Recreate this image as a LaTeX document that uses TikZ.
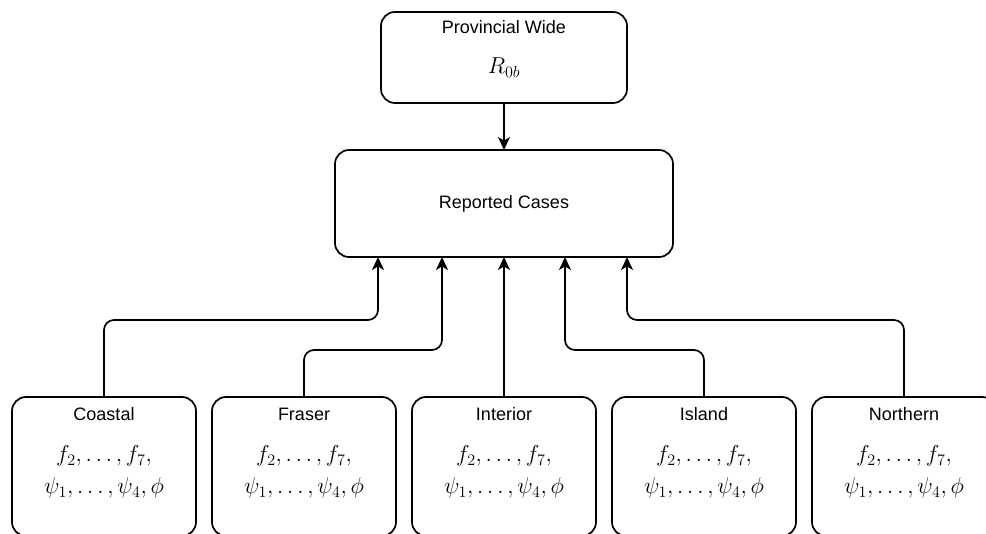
\RequirePackage{fix-cm}
\documentclass[tikz,border=0pt]{standalone}
\usepackage{fontspec}
\setmainfont{Liberation Sans}
\usetikzlibrary{arrows.meta}
\tikzset{
  box/.style={draw, line width=1.7pt, rounded corners=14pt, outer sep=0pt, inner sep=0pt},
  regbox/.style={box, minimum width=184pt, minimum height=139pt},
  conn/.style={draw, line width=1.7pt, rounded corners=10pt,
    -{Stealth[length=13pt,width=12pt,inset=3.5pt]}},
  lbl/.style={anchor=base, font=\fontsize{18}{22}\selectfont, inner sep=0pt},
  mth/.style={anchor=base, font=\fontsize{23}{27}\selectfont, inner sep=0pt},
}
\begin{document}
\begin{tikzpicture}[x=1pt,y=-1pt]
\useasboundingbox (0,0) rectangle (986,534);

% top box
\node[box, minimum width=246pt, minimum height=91pt] (top) at (504,57.5) {};
\node[lbl] (topT) at (504,34) {Provincial Wide};
\node[mth] (topM) at (504,74) {$R_{0b}$};

% reported cases
\node[box, minimum width=338pt, minimum height=107pt, font=\fontsize{18}{22}\selectfont] (rep) at (504,203.5) {Reported Cases};

% region boxes
\foreach \nm/\lab/\cx in {coastal/Coastal/104, fraser/Fraser/304, interior/Interior/504, island/Island/704, northern/Northern/904}{
  \node[regbox] (\nm) at (\cx,466.5) {};
  \node[lbl] (\nm T) at (\cx,421) {\lab};
  \node[mth] (\nm F) at (\cx,462) {$f_2,\ldots,f_7,$};
  \node[mth] (\nm P) at (\cx,494) {$\psi_1,\ldots,\psi_4,\phi$};
}

% connectors
\draw[conn] (top.south) -- (rep.north);
\draw[conn] (coastal.north) |- ([xshift=-126pt,yshift=-63pt]rep.south) -- ([xshift=-126pt]rep.south);
\draw[conn] (fraser.north) |- ([xshift=-62pt,yshift=-93pt]rep.south) -- ([xshift=-62pt]rep.south);
\draw[conn] (interior.north) -- (rep.south);
\draw[conn] (island.north) |- ([xshift=61pt,yshift=-93pt]rep.south) -- ([xshift=61pt]rep.south);
\draw[conn] (northern.north) |- ([xshift=123pt,yshift=-63pt]rep.south) -- ([xshift=123pt]rep.south);
\end{tikzpicture}
\end{document}
